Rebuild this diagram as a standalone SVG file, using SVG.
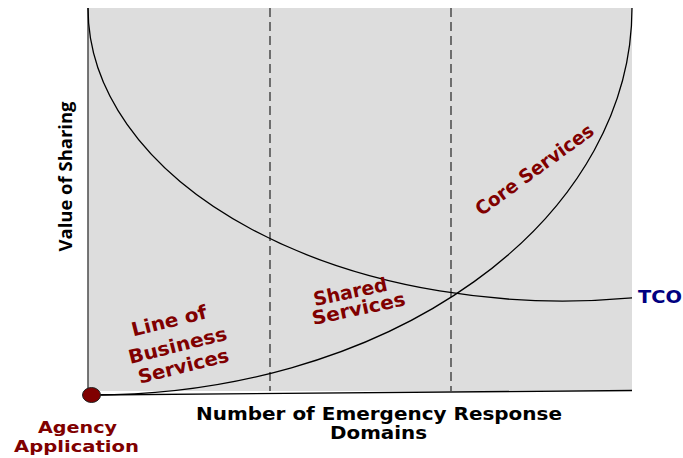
<svg xmlns="http://www.w3.org/2000/svg" width="683" height="458" viewBox="0 0 683 458">
<style>
.lbl{font-family:"DejaVu Sans","Liberation Sans",sans-serif;font-weight:bold;}
.red{fill:#800000;font-size:19px;text-anchor:middle;}
.ax{fill:#000;font-size:17px;text-anchor:middle;}
.curve{fill:none;stroke:#000;stroke-width:1.3;}
.dash{fill:none;stroke:#333;stroke-width:1.3;stroke-dasharray:9,5;}
</style>
<rect width="683" height="458" fill="#fff"/>
<g id="plot-area">
<rect x="88" y="8" width="544" height="383" fill="#dddddd"/>
</g>
<g id="dividers">
<line class="dash" x1="270" y1="8" x2="270" y2="391"/>
<line class="dash" x1="451" y1="8" x2="451" y2="391"/>
</g>
<g id="axes">
<line x1="88" y1="8" x2="88" y2="394" stroke="#555" stroke-width="1.6"/>
<line x1="92" y1="395" x2="632" y2="390.5" stroke="#000" stroke-width="1.3"/>
</g>
<g id="connectors">
<path id="tco-curve" class="curve" d="M88,8 A475,293 0 0 0 632,297.9"/>
<path id="value-curve" class="curve" d="M93,395 A539,387 0 0 0 632,8"/>
</g>
<g id="origin">
<ellipse cx="91.5" cy="395" rx="9" ry="7.5" fill="#800000" stroke="#222" stroke-width="1"/>
</g>
<g id="y-label">
<text x="71.5" y="176.5" font-family="'Open Sans',sans-serif" font-weight="bold" font-size="18" text-anchor="middle" textLength="150" lengthAdjust="spacingAndGlyphs" transform="rotate(-90 71.5 176.5)">Value of Sharing</text>
</g>
<g id="x-label">
<text class="lbl ax" x="379" y="420" textLength="366" lengthAdjust="spacingAndGlyphs">Number of Emergency Response</text>
<text class="lbl ax" x="378.5" y="439" textLength="97" lengthAdjust="spacingAndGlyphs">Domains</text>
</g>
<g id="agency">
<text class="lbl red" x="77.5" y="433" style="font-size:16.5px" textLength="79" lengthAdjust="spacingAndGlyphs">Agency</text>
<text class="lbl red" x="76.5" y="452" style="font-size:16.5px" textLength="125" lengthAdjust="spacingAndGlyphs">Application</text>
</g>
<g id="tco">
<text class="lbl" x="638" y="303" fill="#000080" font-size="17" textLength="44" lengthAdjust="spacingAndGlyphs">TCO</text>
</g>
<g id="lob">
<text class="lbl red" x="170.7" y="327.3" textLength="77" lengthAdjust="spacingAndGlyphs" transform="rotate(-14 170.7 327.3)">Line of</text>
<text class="lbl red" x="179.2" y="351.7" textLength="101" lengthAdjust="spacingAndGlyphs" transform="rotate(-14 179.2 351.7)">Business</text>
<text class="lbl red" x="185" y="372.5" textLength="93" lengthAdjust="spacingAndGlyphs" transform="rotate(-14 185 372.5)">Services</text>
</g>
<g id="shared">
<text class="lbl red" x="351.7" y="298.3" textLength="75" lengthAdjust="spacingAndGlyphs" transform="rotate(-12 351.7 298.3)">Shared</text>
<text class="lbl red" x="360" y="315" textLength="95" lengthAdjust="spacingAndGlyphs" transform="rotate(-12 360 315)">Services</text>
</g>
<g id="core">
<text class="lbl red" x="538.3" y="175" textLength="141" lengthAdjust="spacingAndGlyphs" transform="rotate(-36 538.3 175)">Core Services</text>
</g>
</svg>
